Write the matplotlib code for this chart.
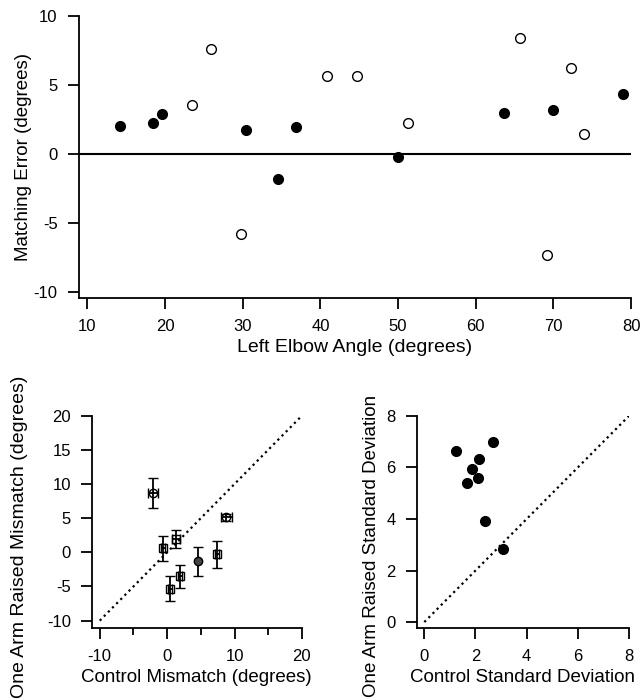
import matplotlib.pyplot as plt
import matplotlib

matplotlib.rcParams['font.family'] = ['Liberation Sans', 'DejaVu Sans']
matplotlib.rcParams['font.size'] = 12
matplotlib.rcParams['axes.unicode_minus'] = False

# top panel: matching error vs left elbow angle
filled_angle = [14.2, 18.4, 19.6, 30.4, 34.5, 36.8, 50.0, 63.6, 70.0, 79.0]
filled_error = [2.0, 2.2, 2.87, 1.68, -1.83, 1.93, -0.23, 2.97, 3.14, 4.35]
open_angle = [23.4, 25.9, 29.8, 40.9, 44.7, 51.3, 65.7, 69.2, 72.3, 73.9]
open_error = [3.53, 7.6, -5.8, 5.64, 5.64, 2.24, 8.38, -7.38, 6.22, 1.42]

# bottom left: mismatch, control vs one arm raised
mm_circle_x = [-2.1, 8.8]
mm_circle_y = [8.65, 5.1]
mm_circle_xerr = [0.7, 0.8]
mm_circle_yerr = [2.2, 0.5]
mm_square_x = [-0.6, 1.3, 1.9, 0.4, 7.4]
mm_square_y = [0.6, 2.0, -3.5, -5.3, -0.3]
mm_square_xerr = [0.3, 0.6, 0.3, 0.3, 0.3]
mm_square_yerr = [1.8, 1.3, 1.7, 1.85, 2.0]
mm_filled_x = [4.6]
mm_filled_y = [-1.3]
mm_filled_yerr = [2.1]

# bottom right: standard deviations
sd_control = [1.24, 2.68, 2.14, 1.86, 2.11, 1.68, 2.38, 3.09]
sd_raised = [6.64, 6.99, 6.33, 5.94, 5.60, 5.38, 3.93, 2.83]


def style(ax):
    for s in ['top', 'right']:
        ax.spines[s].set_visible(False)
    for s in ['left', 'bottom']:
        ax.spines[s].set_linewidth(1.3)
    ax.tick_params(direction='out', length=8, width=1.3, pad=7, labelsize=12)
    ax.tick_params(which='minor', direction='out', length=5, width=1.3)


fig = plt.figure(figsize=(6.41, 7.0), dpi=100)

ax1 = fig.add_axes([0.1225, 0.5747, 0.862, 0.4029])
ax1.plot(filled_angle, filled_error, 'o', color='black', markersize=7)
ax1.plot(open_angle, open_error, 'o', markerfacecolor='white', markeredgecolor='black',
         markeredgewidth=1.0, markersize=7)
ax1.axhline(0, color='black', linewidth=1.5, zorder=0)
ax1.set_xlim(8.85, 80)
ax1.set_ylim(-10.44, 10)
ax1.set_xticks(range(10, 81, 10))
ax1.set_yticks([-10, -5, 0, 5, 10])
ax1.set_xlabel('Left Elbow Angle (degrees)', fontsize=14)
ax1.set_ylabel('Matching Error (degrees)', fontsize=13.5)
style(ax1)
ax1.yaxis.set_label_coords(-0.0837, 0.5)

ax2 = fig.add_axes([0.143, 0.1029, 0.328, 0.3033])
ax2.plot([-10, 20], [-10, 20], ':', color='black', linewidth=1.6)
ax2.errorbar(mm_circle_x, mm_circle_y, xerr=mm_circle_xerr, yerr=mm_circle_yerr, fmt='o',
             mfc='none', mec='black', color='black', markersize=6, capsize=3.5, elinewidth=1.3)
ax2.errorbar(mm_square_x, mm_square_y, xerr=mm_square_xerr, yerr=mm_square_yerr, fmt='s',
             mfc='none', mec='black', color='black', markersize=6, capsize=3.5, elinewidth=1.3)
ax2.errorbar(mm_filled_x, mm_filled_y, yerr=mm_filled_yerr, fmt='o',
             mfc='#444444', mec='black', color='black', markersize=6, capsize=3.5, elinewidth=1.3)
ax2.set_xlim(-11.2, 20)
ax2.set_ylim(-11.07, 20)
ax2.set_xticks(range(-10, 21, 10))
ax2.set_xticks(range(-5, 20, 10), minor=True)
ax2.set_yticks(range(-10, 21, 5))
ax2.set_xlabel('Control Mismatch (degrees)', fontsize=13.5)
ax2.set_ylabel('One Arm Raised Mismatch (degrees)', fontsize=14)
style(ax2)
ax2.yaxis.set_label_coords(-0.303, 0.429)

ax3 = fig.add_axes([0.650, 0.1029, 0.3312, 0.3029])
ax3.plot([0, 8], [0, 8], ':', color='black', linewidth=1.6)
ax3.plot(sd_control, sd_raised, 'o', color='black', markersize=7)
ax3.set_xlim(-0.3, 8)
ax3.set_ylim(-0.23, 8)
ax3.set_xticks(range(0, 9, 2))
ax3.set_yticks(range(0, 9, 2))
ax3.set_xlabel('Control Standard Deviation', fontsize=13.5)
ax3.set_ylabel('One Arm Raised Standard Deviation', fontsize=13.5)
style(ax3)
ax3.yaxis.set_label_coords(-0.173, 0.386)

fig.savefig('out.png', dpi=100)
